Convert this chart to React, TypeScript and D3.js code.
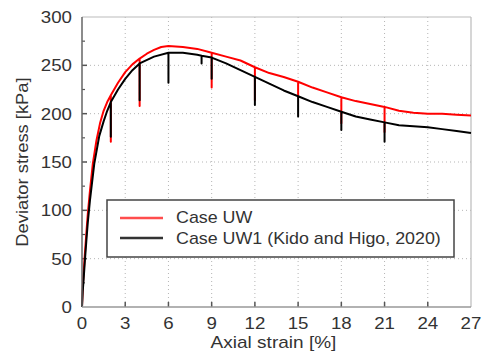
import React from "react";
import * as d3 from "d3";

const xTicks = [0, 3, 6, 9, 12, 15, 18, 21, 24, 27];
const yTicks = [0, 50, 100, 150, 200, 250, 300];
const yMinorTicks = [25, 75, 125, 175, 225, 275];

// Case UW (red): [strain %, stress kPa], vertical unload spikes included as triples
const caseUW: [number, number][] = [
  [0, 0], [0.05, 20], [0.1, 32], [0.2, 55], [0.3, 76], [0.4, 96], [0.55, 120], [0.75, 148],
  [1.0, 172], [1.25, 190], [1.5, 203], [1.75, 212], [2.0, 219], [2.0, 171], [2.0, 219],
  [2.5, 232], [3.0, 243], [3.5, 251], [4.0, 257], [4.0, 208], [4.0, 257],
  [4.5, 262], [5.0, 266], [5.5, 269], [6.0, 270], [7.0, 269], [8.0, 267],
  [9.0, 263], [9.0, 227], [9.0, 263], [10.0, 259], [11.0, 255], [12.0, 248], [12.0, 214], [12.0, 248],
  [13.0, 242], [14.0, 238], [15.0, 233], [15.0, 217], [15.0, 233], [16.0, 227], [17.0, 222],
  [18.0, 217], [18.0, 190], [18.0, 217], [19.0, 213], [20.0, 210], [21.0, 207], [21.0, 181], [21.0, 207],
  [22.0, 203], [23.0, 201], [24.0, 200], [25.0, 200], [26.0, 199], [27.0, 198],
];

// Case UW1 (black)
const caseUW1: [number, number][] = [
  [0, 0], [0.05, 16], [0.1, 26], [0.2, 48], [0.3, 68], [0.4, 87], [0.55, 110], [0.85, 148],
  [1.2, 177], [1.5, 192], [1.75, 203], [2.0, 212], [2.0, 176], [2.0, 212],
  [2.5, 225], [3.0, 236], [3.5, 245], [4.0, 252], [4.0, 214], [4.0, 252],
  [5.0, 259], [6.0, 263], [6.0, 232], [6.0, 263], [7.0, 263], [8.0, 261], [8.3, 260], [8.3, 252], [8.3, 260],
  [9.0, 258], [9.0, 236], [9.0, 258], [10.0, 252], [11.0, 245], [12.0, 238], [12.0, 209], [12.0, 238],
  [13.0, 231], [14.0, 224], [15.0, 218], [15.0, 197], [15.0, 218], [16.0, 212], [17.0, 207],
  [18.0, 202], [18.0, 183], [18.0, 202], [19.0, 197], [20.0, 194], [21.0, 191], [21.0, 171], [21.0, 191],
  [22.0, 188], [23.0, 187], [24.0, 186], [25.0, 184], [26.0, 182], [27.0, 180],
];

const legendLabels = ["Case UW", "Case UW1 (Kido and Higo, 2020)"];

const W = 489;
const H = 354;
const M = { left: 82, right: 471, top: 17, bottom: 307 };
const font = "Arial, 'Liberation Sans', sans-serif";

function T(props: {
  x: number; y: number; sx?: number; anchor?: string; rotate?: number; children: React.ReactNode;
}) {
  const { x, y, sx = 1.08, anchor = "start", rotate = 0, children } = props;
  const tr = rotate
    ? `translate(${x},${y}) rotate(${rotate}) scale(${sx},1)`
    : `translate(${x},${y}) scale(${sx},1)`;
  return (
    <text transform={tr} textAnchor={anchor} fontFamily={font} fontSize={17} fill="#333">
      {children}
    </text>
  );
}

export default function App() {
  const x = d3.scaleLinear().domain([0, 27]).range([M.left, M.right]);
  const y = d3.scaleLinear().domain([0, 300]).range([M.bottom, M.top]);
  const line = d3
    .line<[number, number]>()
    .x((d) => x(d[0]))
    .y((d) => y(d[1]));

  return (
    <svg width={W} height={H} style={{ position: "absolute", left: 0, top: 0 }}>
      <rect x={0} y={0} width={W} height={H} fill="#fff" />
      {/* grid */}
      {xTicks.slice(1, -1).map((t) => (
        <line key={"gx" + t} x1={x(t)} x2={x(t)} y1={M.top} y2={M.bottom}
          stroke="#b5b5b5" strokeWidth={1} strokeDasharray="1,3" />
      ))}
      {yTicks.slice(1, -1).map((t) => (
        <line key={"gy" + t} x1={M.left} x2={M.right} y1={y(t)} y2={y(t)}
          stroke="#b5b5b5" strokeWidth={1} strokeDasharray="1,3" />
      ))}
      {/* frame */}
      <line x1={M.left} x2={M.right} y1={M.top} y2={M.top} stroke="#bbb" strokeWidth={1.2} />
      <line x1={M.right} x2={M.right} y1={M.top} y2={M.bottom} stroke="#bbb" strokeWidth={1.2} />
      {/* ticks */}
      {xTicks.slice(1, -1).map((t) => (
        <line key={"tx" + t} x1={x(t)} x2={x(t)} y1={M.bottom} y2={M.bottom - 5} stroke="#555" strokeWidth={1.5} />
      ))}
      {yTicks.slice(1, -1).map((t) => (
        <line key={"ty" + t} x1={M.left} x2={M.left + 5} y1={y(t)} y2={y(t)} stroke="#555" strokeWidth={1.5} />
      ))}
      {yMinorTicks.map((t) => (
        <line key={"tm" + t} x1={M.left} x2={M.left + 3} y1={y(t)} y2={y(t)} stroke="#555" strokeWidth={1.2} />
      ))}
      {/* curves */}
      <path d={line(caseUW) || ""} fill="none" stroke="#ff0000" strokeWidth={2} strokeLinejoin="round" />
      <path d={line(caseUW1) || ""} fill="none" stroke="#000" strokeWidth={2} strokeLinejoin="round" />
      {/* axes */}
      <line x1={M.left} x2={M.left} y1={M.top} y2={M.bottom} stroke="#666" strokeWidth={1.5} />
      <line x1={M.left} x2={M.right} y1={M.bottom} y2={M.bottom} stroke="#999" strokeWidth={1.5} />
      {/* tick labels */}
      {xTicks.map((t) => (
        <T key={"lx" + t} x={x(t)} y={329} anchor="middle" sx={1.1}>{t}</T>
      ))}
      {yTicks.map((t) => (
        <T key={"ly" + t} x={72} y={y(t) + 6} anchor="end" sx={1.1}>{t}</T>
      ))}
      {/* titles */}
      <T x={(M.left + M.right) / 2 - 3} y={348} anchor="middle" sx={1.12}>Axial strain [%]</T>
      <T x={28} y={(M.top + M.bottom) / 2} anchor="middle" rotate={-90} sx={1.08}>Deviator stress [kPa]</T>
      {/* legend */}
      <rect x={107} y={200} width={347} height={57} fill="#fff" stroke="#444" strokeWidth={1.5} />
      <line x1={120} x2={163} y1={218} y2={218} stroke="#ff4d4d" strokeWidth={2.5} />
      <line x1={120} x2={163} y1={238} y2={238} stroke="#333" strokeWidth={2.5} />
      <T x={176} y={223} sx={1.05}>{legendLabels[0]}</T>
      <T x={176} y={244} sx={1.05}>{legendLabels[1]}</T>
    </svg>
  );
}
